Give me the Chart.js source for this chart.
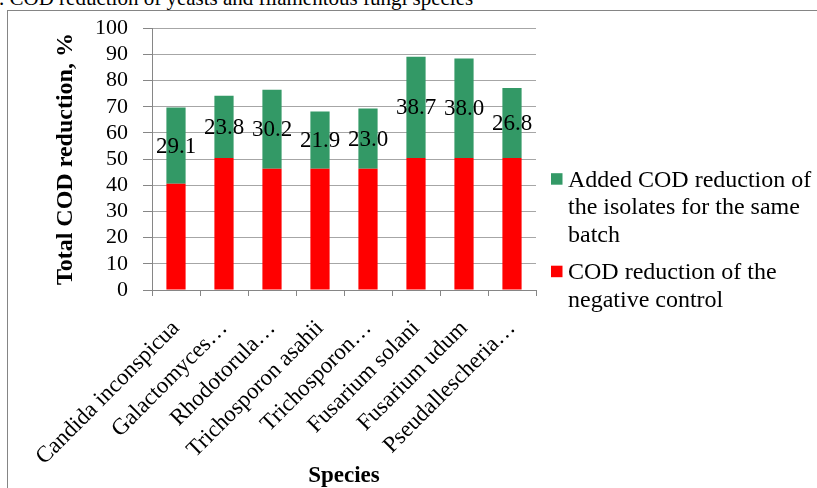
<!DOCTYPE html>
<html>
<head>
<meta charset="utf-8">
<script src="https://cdn.jsdelivr.net/npm/chart.js@4.4.1/dist/chart.umd.min.js"></script>
<style>
  html, body { margin: 0; padding: 0; background: #fff; overflow: hidden; }
  #wrap { position: relative; width: 817px; height: 488px; overflow: hidden; }
  #cap { position: absolute; left: -1px; top: -14px; font: 21px/24px "Liberation Serif", "Times New Roman", serif; color: #000; white-space: nowrap; }
  #frame { position: absolute; left: 7px; top: 10px; width: 900px; height: 600px; border-left: 1px solid #858585; border-top: 1px solid #858585; }
  canvas { position: absolute; left: 0; top: 0; }
</style>
</head>
<body>
<div id="wrap">
  <div id="cap">. COD reduction of yeasts and filamentous fungi species</div>
  <div id="frame"></div>
  <canvas id="c" width="817" height="488"></canvas>
</div>
<script>
const categories = ["Candida inconspicua", "Galactomyces…", "Rhodotorula…", "Trichosporon asahii", "Trichosporon…", "Fusarium solani", "Fusarium udum", "Pseudallescheria…"];
const controlValues = [40.6, 50.4, 46.3, 46.3, 46.3, 50.4, 50.4, 50.4];
const addedValues = [29.1, 23.8, 30.2, 21.9, 23.0, 38.7, 38.0, 26.8];
const seriesNames = ["COD reduction of the negative control", "Added COD reduction of the isolates for the same batch"];
const yMin = 0, yMax = 100, yStep = 10;
const yTitle = "Total COD reduction, %";
const xTitle = "Species";

const SERIF = '"Liberation Serif", "Times New Roman", serif';

const valueLabels = {
  id: 'valueLabels',
  afterDatasetsDraw(chart) {
    const ctx = chart.ctx;
    const meta = chart.getDatasetMeta(1);
    ctx.save();
    ctx.font = '23px ' + SERIF;
    ctx.fillStyle = '#000';
    ctx.textAlign = 'center';
    ctx.textBaseline = 'middle';
    meta.data.forEach((bar, i) => {
      const v = chart.data.datasets[1].data[i];
      ctx.fillText(v.toFixed(1), bar.x, (bar.y + bar.base) / 2 + 1);
    });
    ctx.restore();
  }
};

function wrapText(ctx, text, maxW) {
  const words = text.split(' ');
  const lines = [];
  let cur = '';
  words.forEach(w => {
    const t = cur ? cur + ' ' + w : w;
    if (ctx.measureText(t).width > maxW && cur) { lines.push(cur); cur = w; }
    else cur = t;
  });
  if (cur) lines.push(cur);
  return lines;
}

const sideLegend = {
  id: 'sideLegend',
  afterDraw(chart) {
    const ctx = chart.ctx;
    ctx.save();
    ctx.font = '24px ' + SERIF;
    ctx.textBaseline = 'alphabetic';
    ctx.textAlign = 'left';
    const boxX = 551, textX = 568, lineH = 27.5, itemGap = 10, box = 11.5;
    let y = 186.7;
    const order = chart.data.datasets.map((d, i) => i).reverse();
    order.forEach(i => {
      const ds = chart.data.datasets[i];
      const lines = wrapText(ctx, ds.label, 250);
      ctx.fillStyle = ds.backgroundColor;
      ctx.fillRect(boxX, y - 13.5, box, box);
      ctx.fillStyle = '#000';
      lines.forEach((ln, k) => ctx.fillText(ln, textX, y + k * lineH));
      y += lines.length * lineH + itemGap;
    });
    ctx.restore();
  }
};

new Chart(document.getElementById('c'), {
  type: 'bar',
  data: {
    labels: categories,
    datasets: [
      { label: seriesNames[0], data: controlValues, backgroundColor: '#ff0000', barPercentage: 0.4, categoryPercentage: 1.0 },
      { label: seriesNames[1], data: addedValues, backgroundColor: '#339966', barPercentage: 0.4, categoryPercentage: 1.0 }
    ]
  },
  options: {
    responsive: false,
    animation: false,
    devicePixelRatio: 1,
    layout: { padding: { left: 50, right: 281, top: 27, bottom: 0 } },
    plugins: { legend: { display: false }, tooltip: { enabled: false }, title: { display: false } },
    scales: {
      x: {
        stacked: true,
        grid: { display: true, drawOnChartArea: false, drawTicks: true, tickLength: 6, color: '#868686', offset: true },
        border: { color: '#868686', width: 1 },
        ticks: { color: '#000', font: { family: SERIF, size: 23 }, minRotation: 45, maxRotation: 45, autoSkip: false, padding: 19 },
        title: { display: true, text: xTitle, color: '#000', font: { family: SERIF, size: 23, weight: 'bold' }, padding: { top: 0, bottom: -2 } },
        afterFit(scale) { scale.height = 198; }
      },
      y: {
        stacked: true,
        min: yMin, max: yMax,
        grid: { color: '#a6a6a6', tickLength: 9, tickColor: '#868686' },
        border: { color: '#868686', width: 1 },
        ticks: { stepSize: yStep, autoSkip: false, color: '#000', font: { family: SERIF, size: 22 }, padding: 15 },
        title: { display: true, text: yTitle, color: '#000', font: { family: SERIF, size: 24, weight: 'bold' }, padding: { top: 1, bottom: 0 } },
        afterFit(scale) { scale.width = 102; }
      }
    }
  },
  plugins: [valueLabels, sideLegend]
});
</script>
</body>
</html>
